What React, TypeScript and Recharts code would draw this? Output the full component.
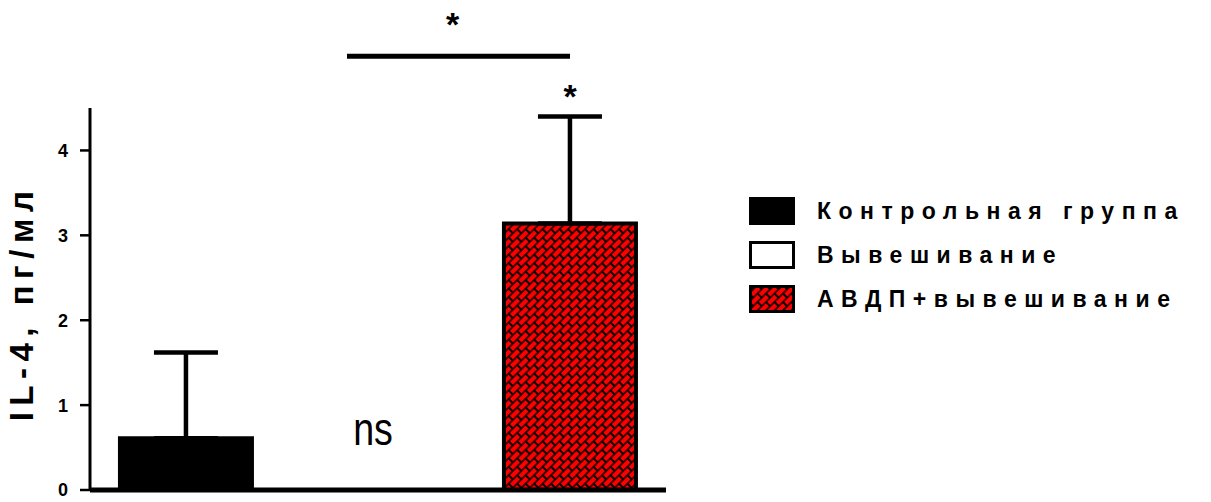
import {
  BarChart,
  Bar,
  XAxis,
  YAxis,
  Cell,
  ErrorBar,
  Legend,
  ReferenceLine,
  ReferenceDot,
} from "recharts";

const groups = ["Контрольная группа", "Вывешивание", "АВДП+вывешивание"];
const means = [0.61, 0, 3.14];
const sem = [1.01, 0, 1.26];
const notes = ["", "ns", ""];
const yTicks = [0, 1, 2, 3, 4];
const yLabel = "IL-4, пг/мл";
const bracketLevel = 5.11;

const FONT = '"Liberation Sans", Arial, Helvetica, sans-serif';

const data = groups.map((name, i) => ({
  name,
  value: means[i],
  err: [0, sem[i]],
}));

function BrickPattern({ id }: { id: string }) {
  return (
    <pattern
      id={id}
      width={12}
      height={12}
      patternUnits="userSpaceOnUse"
      patternTransform="rotate(-45)"
    >
      <rect width={12} height={12} fill="#000" />
      <rect x={1} y={0.75} width={10} height={4.5} fill="#ff0000" />
      <rect x={-5} y={6.75} width={10} height={4.5} fill="#ff0000" />
      <rect x={7} y={6.75} width={10} height={4.5} fill="#ff0000" />
    </pattern>
  );
}

const fills = (patternId: string) => ["#000000", "#ffffff", `url(#${patternId})`];

function LegendBox() {
  const f = fills("brick-legend");
  return (
    <div style={{ fontFamily: FONT }}>
      {groups.map((g, i) => (
        <div key={g} style={{ display: "flex", alignItems: "center", height: 44 }}>
          <svg width={46} height={28} style={{ flex: "none" }}>
            <defs>
              <BrickPattern id="brick-legend" />
            </defs>
            <rect x={1.5} y={1.5} width={43} height={25} fill={f[i]} stroke="#000" strokeWidth={3} />
          </svg>
          <span
            style={{
              marginLeft: 22,
              fontSize: 23,
              fontWeight: "bold",
              letterSpacing: 7.5,
              color: "#000",
              whiteSpace: "nowrap",
            }}
          >
            {g}
          </span>
        </div>
      ))}
    </div>
  );
}

function AxisTitle(props: any) {
  const vb = props.viewBox;
  const cx = 25;
  const cy = vb.y + vb.height / 2 + 4;
  return (
    <text
      x={cx}
      y={cy}
      transform={`rotate(-90, ${cx}, ${cy})`}
      textAnchor="middle"
      fontFamily={FONT}
      fontSize={33}
      fontWeight="bold"
      letterSpacing={6.5}
      fill="#000"
    >
      {yLabel}
    </text>
  );
}

function NoteText(props: any) {
  const { viewBox, value } = props;
  if (!value) return null;
  const cx = viewBox.x + viewBox.width / 2 - 5;
  const by = viewBox.y - 45;
  return (
    <text
      transform={`translate(${cx}, ${by}) scale(0.8, 1)`}
      textAnchor="middle"
      fontFamily={FONT}
      fontSize={47}
      fill="#000"
    >
      {value}
    </text>
  );
}

function Bracket(props: any) {
  const { x1, x2, y1 } = props;
  const left = x1 - 31;
  return (
    <g>
      <line x1={left} x2={x2} y1={y1} y2={y1} stroke="#000" strokeWidth={5} />
      <text
        x={(left + x2) / 2 - 6}
        y={y1 - 20}
        textAnchor="middle"
        fontFamily={FONT}
        fontSize={34}
        fontWeight="bold"
        fill="#000"
      >
        *
      </text>
    </g>
  );
}

export default function App() {
  const f = fills("brick");
  return (
    <div style={{ fontFamily: FONT, marginTop: -8 }}>
      <BarChart
        width={1195}
        height={502}
        data={data}
        margin={{ top: 108, right: 537, bottom: 10, left: 0 }}
        barCategoryGap="15.6%"
      >
        <defs>
          <BrickPattern id="brick" />
        </defs>
        <XAxis
          dataKey="name"
          tick={false}
          tickLine={false}
          height={2}
          axisLine={{ stroke: "#000", strokeWidth: 5 }}
        />
        <YAxis
          width={82}
          domain={[0, 4.5]}
          ticks={yTicks}
          interval={0}
          tickSize={10}
          tickMargin={12}
          axisLine={{ stroke: "#000", strokeWidth: 3 }}
          tickLine={{ stroke: "#000", strokeWidth: 2.5 }}
          tick={{ fill: "#000", fontSize: 18, fontWeight: "bold", fontFamily: FONT }}
          label={{ value: yLabel, content: AxisTitle }}
        />
        <Legend
          layout="horizontal"
          verticalAlign="middle"
          align="center"
          wrapperStyle={{ left: 741, top: 189, width: 454 }}
          content={() => <LegendBox />}
        />
        <Bar dataKey="value" isAnimationActive={false}>
          {data.map((d, i) => (
            <Cell key={d.name} fill={f[i]} stroke={i === 1 ? "none" : "#000"} strokeWidth={4} />
          ))}
          <ErrorBar dataKey="err" direction="y" width={32} strokeWidth={4.5} stroke="#000" />
        </Bar>
        <ReferenceLine
          segment={[
            { x: groups[1], y: bracketLevel },
            { x: groups[2], y: bracketLevel },
          ]}
          ifOverflow="visible"
          shape={Bracket}
        />
        <ReferenceDot
          x={groups[2]}
          y={means[2] + sem[2]}
          r={0}
          ifOverflow="visible"
          label={{
            value: "*",
            position: "top",
            offset: 8,
            fontSize: 34,
            fontWeight: "bold",
            fill: "#000",
            fontFamily: FONT,
          }}
        />
        {notes.map((n, i) =>
          n ? (
            <ReferenceDot
              key={groups[i]}
              x={groups[i]}
              y={means[i]}
              r={0}
              ifOverflow="visible"
              label={{ value: n, content: NoteText }}
            />
          ) : null
        )}
      </BarChart>
    </div>
  );
}
